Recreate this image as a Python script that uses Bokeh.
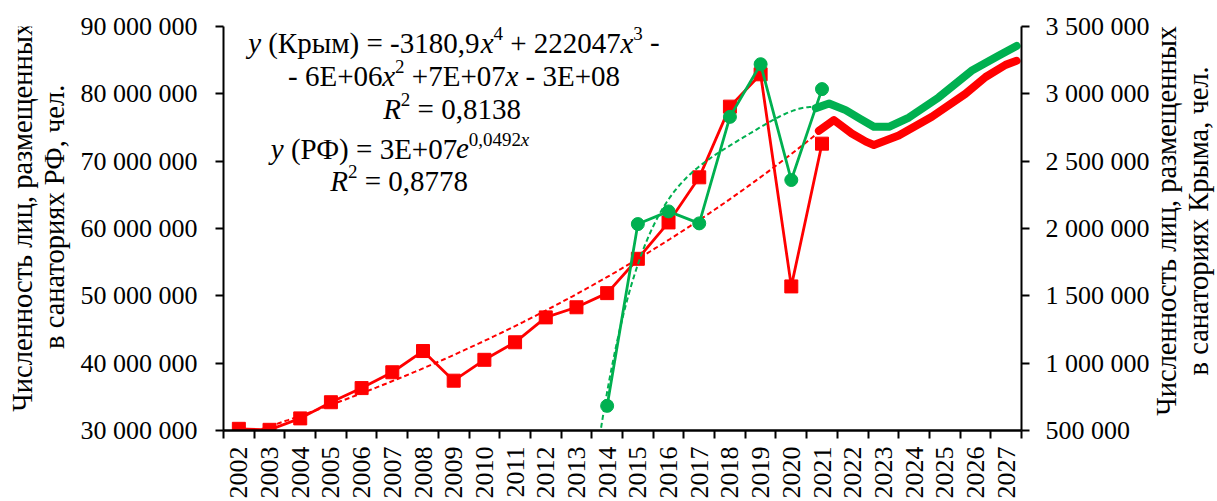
import math
import numpy as np
from bokeh.plotting import figure
from bokeh.layouts import row
from bokeh.models import Range1d, LinearAxis, FixedTicker, Label
from bokeh.embed import file_html
from bokeh.resources import INLINE
from bokeh.core.properties import value

# ---------------- data ----------------
years = list(range(2002, 2028))
year_labels = [str(y) for y in years]

rf_years = list(range(2002, 2022))
rf_values = [30.25e6, 30.1e6, 31.8e6, 34.2e6, 36.3e6, 38.65e6, 41.8e6, 37.4e6,
             40.5e6, 43.1e6, 46.8e6, 48.3e6, 50.4e6, 55.5e6, 60.9e6, 67.6e6,
             78.1e6, 82.9e6, 51.4e6, 72.6e6]

crimea_years = list(range(2014, 2022))
crimea_values = [683000, 2033000, 2127000, 2038000, 2829000, 3220000, 2360000, 3035000]

rf_forecast_x = [2020.90, 2021.39, 2021.97, 2022.43, 2022.69, 2023.50, 2024.58,
                 2025.67, 2026.33, 2026.98, 2027.34]
rf_forecast_values = [74.5e6, 76.1e6, 74.1e6, 72.9e6, 72.4e6, 73.8e6, 76.6e6,
                      80.0e6, 82.5e6, 84.3e6, 84.9e6]

crimea_forecast_x = [2020.80, 2021.23, 2021.77, 2022.26, 2022.69, 2023.18, 2023.83,
                     2024.80, 2025.87, 2026.75, 2027.34]
crimea_forecast_values = [2894000, 2928000, 2879000, 2812000, 2755000, 2755000, 2824000,
                          2973000, 3171000, 3282000, 3356000]

left_ticks = [30000000, 40000000, 50000000, 60000000, 70000000, 80000000, 90000000]
left_tick_labels = ["30 000 000", "40 000 000", "50 000 000", "60 000 000",
                    "70 000 000", "80 000 000", "90 000 000"]
right_ticks = [500000, 1000000, 1500000, 2000000, 2500000, 3000000, 3500000]
right_tick_labels = ["500 000", "1 000 000", "1 500 000", "2 000 000",
                     "2 500 000", "3 000 000", "3 500 000"]

left_title = "Численность лиц, размещенных\nв санаториях РФ, чел."
right_title = "Численность лиц, размещенных\nв санаториях Крыма, чел."

RED = "#FF0000"
GREEN = "#00B050"
FONT = "Liberation Serif"

# ---------------- trend lines (fitted like Excel) ----------------
rf_idx = np.array(rf_years) - 2001
b_rf, ln_a_rf = np.polyfit(rf_idx, np.log(rf_values), 1)
rf_trend_x = np.linspace(rf_years[0], rf_years[-1], 120)
rf_trend_y = np.exp(ln_a_rf) * np.exp(b_rf * (rf_trend_x - 2001))

cr_idx = np.array(crimea_years) - 2001
cr_coef = np.polyfit(cr_idx, crimea_values, 4)
cr_trend_x = np.linspace(crimea_years[0] - 0.5, crimea_years[-1], 200)
cr_trend_y = np.polyval(cr_coef, cr_trend_x - 2001)

# ---------------- layout sizes ----------------
H = 501
LEFT_W = 72
RIGHT_W = 65
MAIN_W = 1217 - LEFT_W - RIGHT_W
FRAME_L = 223 - LEFT_W        # frame left inside main canvas
FRAME_R = 1023 - LEFT_W       # frame right inside main canvas
TITLE_SIZE = "28.5px"


def title_fig(width, text, cx, cy):
    f = figure(width=width, height=H, output_backend="svg", toolbar_location=None,
               x_range=Range1d(0, width), y_range=Range1d(0, H),
               x_axis_location=None, y_axis_location=None,
               min_border=0)
    f.outline_line_color = None
    f.xgrid.visible = False
    f.ygrid.visible = False
    f.text(x=[cx], y=[H - cy], text=[text], angle=math.pi / 2,
           text_align="center", text_baseline="middle",
           text_font=value(FONT), text_font_size=TITLE_SIZE, text_color="black",
           text_line_height=1.05)
    return f


left_fig = title_fig(LEFT_W, left_title, 38, 236)
right_fig = title_fig(RIGHT_W, right_title, 1182 - (1217 - RIGHT_W), 241)

# ---------------- main figure ----------------
p = figure(width=MAIN_W, height=H, output_backend="svg", toolbar_location=None,
           x_range=Range1d(2001.5, 2027.5), y_range=Range1d(30e6, 90e6),
           min_border_left=FRAME_L, min_border_right=MAIN_W - FRAME_R,
           min_border_top=26, min_border_bottom=71)
p.outline_line_color = None
p.xgrid.visible = False
p.ygrid.visible = False
p.extra_y_ranges = {"crimea": Range1d(500000, 3500000)}

# x axis
xa = p.xaxis[0]
xa.ticker = FixedTicker(ticks=years,
                        minor_ticks=[y - 0.5 for y in years] + [years[-1] + 0.5])
xa.major_label_overrides = dict(zip(years, year_labels))
xa.major_tick_line_color = None
xa.major_tick_out = 8
xa.major_tick_in = 0
xa.minor_tick_line_color = "black"
xa.minor_tick_line_width = 2
xa.minor_tick_out = 8
xa.minor_tick_in = 0
xa.axis_line_color = "black"
xa.axis_line_width = 2.5
xa.major_label_orientation = math.pi / 2
xa.major_label_standoff = 8
xa.major_label_text_font = FONT
xa.major_label_text_font_size = "26px"
xa.major_label_text_color = "black"

# left axis
ya = p.yaxis[0]
ya.ticker = FixedTicker(ticks=left_ticks)
ya.major_label_overrides = dict(zip(left_ticks, left_tick_labels))
ya.major_tick_out = 8
ya.major_tick_in = 0
ya.major_tick_line_width = 2
ya.major_tick_line_color = "black"
ya.minor_tick_line_color = None
ya.axis_line_width = 2
ya.axis_line_color = "black"
ya.major_label_standoff = 18
ya.major_label_text_font = FONT
ya.major_label_text_font_size = "26px"
ya.major_label_text_color = "black"

# right axis
ra = LinearAxis(y_range_name="crimea", ticker=FixedTicker(ticks=right_ticks))
ra.major_label_overrides = dict(zip(right_ticks, right_tick_labels))
ra.major_tick_out = 8
ra.major_tick_in = 0
ra.major_tick_line_width = 2
ra.major_tick_line_color = "black"
ra.minor_tick_line_color = None
ra.axis_line_width = 2
ra.axis_line_color = "black"
ra.major_label_standoff = 16
ra.major_label_text_font = FONT
ra.major_label_text_font_size = "26px"
ra.major_label_text_color = "black"
p.add_layout(ra, "right")

# ---------------- series ----------------
p.line(rf_years, rf_values, line_color=RED, line_width=2.8)
p.scatter(rf_years, rf_values, marker="square", size=13, fill_color=RED, line_color=RED)
p.line(rf_trend_x, rf_trend_y, line_color=RED, line_width=2, line_dash="5 3")

p.line(crimea_years, crimea_values, line_color=GREEN, line_width=2.8, y_range_name="crimea")
p.scatter(crimea_years, crimea_values, marker="circle", size=13, fill_color=GREEN,
          line_color=GREEN, y_range_name="crimea")
p.line(cr_trend_x, cr_trend_y, line_color=GREEN, line_width=2, line_dash="5 3",
       y_range_name="crimea")

p.line(rf_forecast_x, rf_forecast_values, line_color=RED, line_width=8,
       line_cap="round", line_join="round")
p.line(crimea_forecast_x, crimea_forecast_values, line_color=GREEN, line_width=8,
       line_cap="round", line_join="round", y_range_name="crimea")

# ---------------- equation labels ----------------
W_REG = {' ': .25, ',': .25, '.': .25, '-': .333, '+': .564, '=': .564, '(': .333,
         ')': .333, 'E': .611, 'R': .667, 'К': .722, 'р': .5, 'ы': .712, 'м': .597,
         'Р': .556, 'Ф': .742}
W_IT = {'x': .444, 'y': .444, 'e': .444, 'R': .611}
FS = 29
SUP = 19
RISE = 9


def px_to_x(px):
    return 2001.5 + (px - 223) * 26.0 / 800.0


def py_to_y(py):
    return 30e6 + (430 - py) * 60e6 / 404.0


def seg_w(t, st, sz):
    tab = W_IT if st == "italic" else W_REG
    return sum(tab.get(c, 0.5) for c in t) * sz


def place_line(segs, center_px, base_px):
    total = sum(seg_w(t, st, sz) for t, st, sz, r in segs)
    x = center_px - total / 2.0
    for t, st, sz, r in segs:
        lead = len(t) - len(t.lstrip(' '))
        txt = t.strip(' ')
        if txt:
            p.add_layout(Label(x=px_to_x(x + lead * W_REG[' '] * sz), y=py_to_y(base_px - r),
                               text=txt, text_font=FONT, text_font_size=f"{sz}px",
                               text_font_style=st, text_color="black",
                               text_align="left", text_baseline="alphabetic"))
        x += seg_w(t, st, sz)


N = "normal"
I = "italic"
place_line([("y", I, FS, 0), (" (Крым) = -3180,9", N, FS, 0), ("x", I, FS, 0),
            ("4", N, SUP, RISE), (" + 222047", N, FS, 0), ("x", I, FS, 0),
            ("3", N, SUP, RISE), (" -", N, FS, 0)], 454, 42)
place_line([("- 6E+06", N, FS, 0), ("x", I, FS, 0), ("2", N, SUP, RISE),
            (" +7E+07", N, FS, 0), ("x", I, FS, 0), (" - 3E+08", N, FS, 0)], 454, 75)
place_line([("R", I, FS, 0), ("2", N, SUP, RISE), (" = 0,8138", N, FS, 0)], 452, 108)
place_line([("y", I, FS, 0), (" (РФ) = 3E+07", N, FS, 0), ("e", I, FS, 0),
            ("0,0492", N, SUP, RISE), ("x", I, SUP, RISE)], 400, 148)
place_line([("R", I, FS, 0), ("2", N, SUP, RISE), (" = 0,8778", N, FS, 0)], 399, 180)

layout = row(left_fig, p, right_fig, spacing=0)
open("out.html", "w").write(file_html(layout, INLINE))
